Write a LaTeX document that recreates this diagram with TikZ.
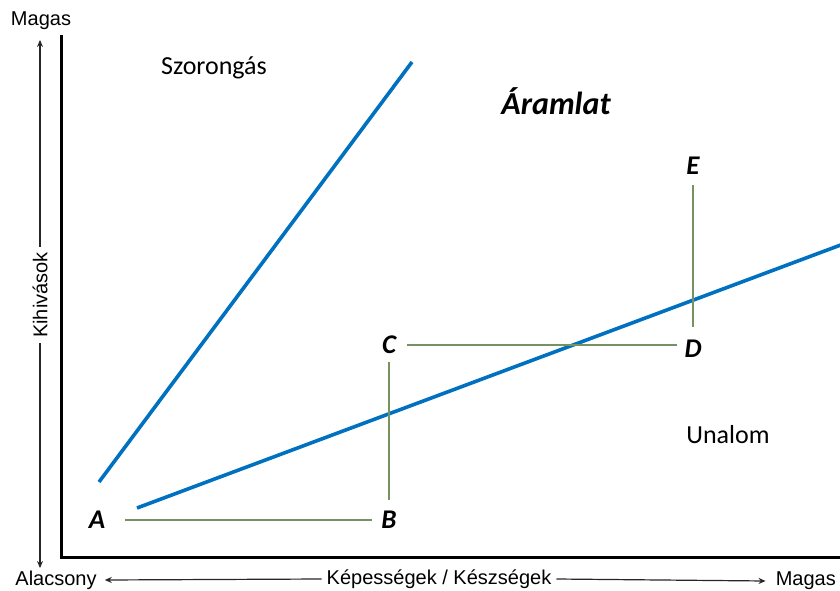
\documentclass[tikz,border=0pt]{standalone}
\usepackage{fontspec}
\setmainfont{Carlito}
\newfontfamily\axisfont{Liberation Sans}
\usetikzlibrary{arrows.meta}
\definecolor{flowblue}{RGB}{0,112,192}
\definecolor{stepgreen}{RGB}{118,146,96}
\tikzset{
  blueline/.style={draw=flowblue,line width=3.6pt},
  greenline/.style={draw=stepgreen,line width=2pt},
  ptlabel/.style={font=\fontsize{27}{30}\selectfont\bfseries\itshape,inner sep=0pt},
  zonelabel/.style={font=\fontsize{26}{30}\selectfont,inner sep=0pt},
  axislabel/.style={font=\axisfont\fontsize{20}{23}\selectfont,inner sep=0pt},
  axisarrow/.style={draw=black!85,line width=1.2pt,-{Stealth[length=7pt,width=6pt]}},
}
\begin{document}
\begin{tikzpicture}[x=1pt,y=-1pt]
\useasboundingbox (0,0) rectangle (840,591);
% main axes
\draw[line width=3pt,line cap=rect] (61,37) -- (61,557) -- (845,557);
% axis labels
\node[axislabel] (ytop) at (41,21) {Magas};
\node[axislabel,rotate=90] (ylab) at (40,295) {Kihivások};
\coordinate (ytopend) at (40,40);
\coordinate (ybotend) at (40,568);
\draw[axisarrow] (ylab.east) ++(0,-5) -- (ytopend);
\draw[axisarrow] (ylab.west) ++(0,5) -- (ybotend);
\node[axislabel] (xlow) at (56,580) {Alacsony};
\node[axislabel] (xlab) at (439,579) {Képességek / Készségek};
\node[axislabel,anchor=east] (xhigh) at (836,581) {Magas};
\draw[axisarrow] ([xshift=-5pt]xlab.west) -- ([xshift=8pt]xlow.east);
\draw[axisarrow] ([xshift=5pt]xlab.east) -- ([xshift=-10pt]xhigh.west);
% zone labels
\node[zonelabel] (anx) at (214,68) {Szorongás};
\node[font=\fontsize{32}{36}\selectfont\bfseries\itshape,inner sep=0pt] (flow) at (556,101) {Áramlat};
\node[zonelabel] (bor) at (728,435) {Unalom};
% blue channel lines
\coordinate (s1) at (99,482);
\coordinate (s2) at (412,62);
\coordinate (b1) at (137,508);
\coordinate (b2) at (842,244.5);
\draw[blueline] (s1) -- (s2);
\draw[blueline] (b1) -- (b2);
% points
\node[ptlabel] (A) at (97,520) {A};
\node[ptlabel] (B) at (389,520) {B};
\node[ptlabel] (C) at (389,345) {C};
\node[ptlabel] (D) at (693,349) {D};
\node[ptlabel] (E) at (693,166) {E};
\draw[greenline,shorten <=28pt,shorten >=17pt] (A.center) -- (B.center);
\draw[greenline,shorten <=20pt,shorten >=17pt] (B.center) -- (C.center);
\draw[greenline,shorten <=18pt,shorten >=16pt] (C.center) -- (D.center |- C.center);
\draw[greenline,shorten <=22pt,shorten >=19pt] (D.center) -- (E.center);
\end{tikzpicture}
\end{document}
